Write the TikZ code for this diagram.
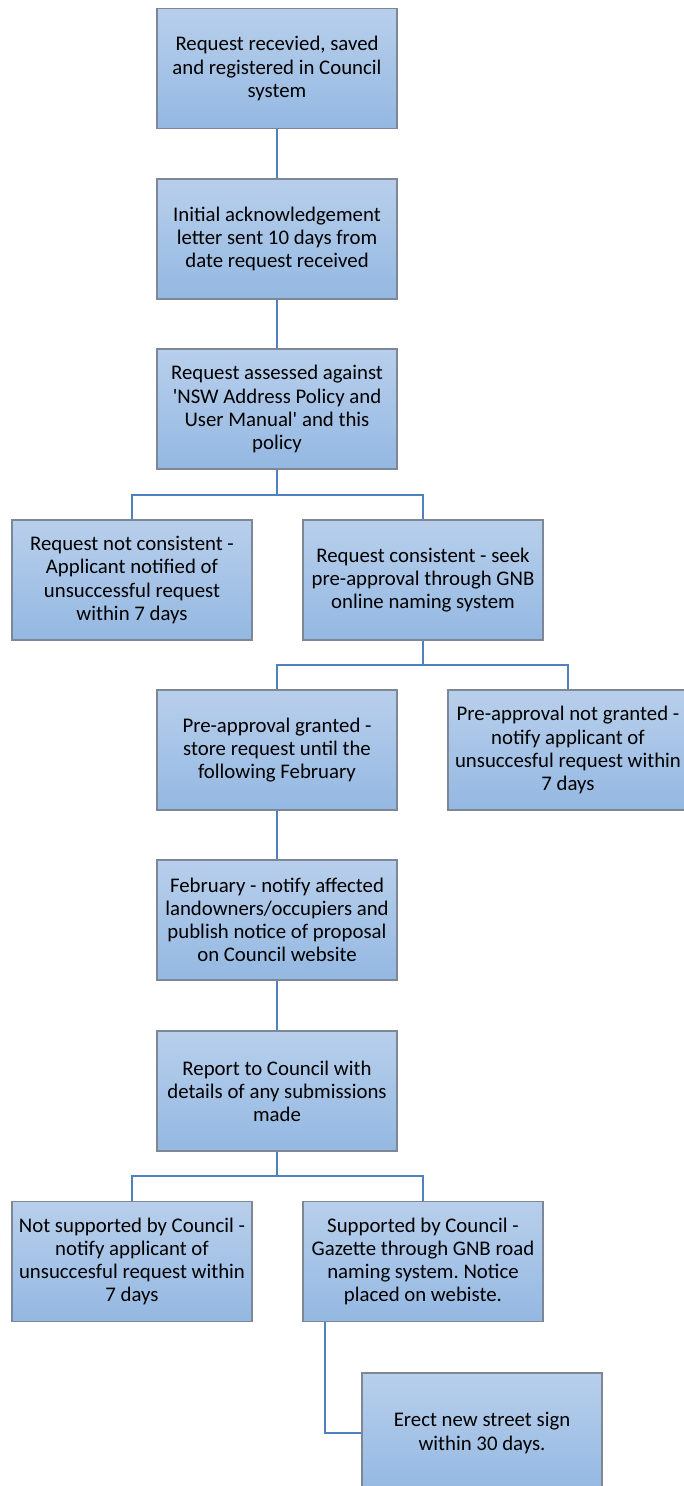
\documentclass[tikz,border=0pt]{standalone}
\usepackage{fontspec}
\setmainfont{Carlito}
\definecolor{boxtop}{RGB}{184,207,235}
\definecolor{boxbottom}{RGB}{148,184,226}
\definecolor{boxline}{RGB}{125,135,150}
\definecolor{linkblue}{RGB}{79,129,189}
\frenchspacing
\begin{document}
\begin{tikzpicture}[x=0.75pt, y=-0.75pt,
    stage/.style={draw=boxline, line width=0.9pt, top color=boxtop, bottom color=boxbottom,
      minimum width=180pt, minimum height=90pt, inner sep=0pt, align=center,
      font=\fontsize{15.6pt}{17.3pt}\selectfont},
    link/.style={draw=linkblue, line width=1.6pt}]
    \useasboundingbox (0,0) rectangle (684,1486) ;

    \node[stage] (recv) at (277,68.5) {Request recevied, saved\\and registered in Council\\system} ;
    \node[stage] (ack) at (277,239) {Initial acknowledgement\\letter sent 10 days from\\date request received} ;
    \node[stage] (assess) at (277,409) {Request assessed against\\\textquotesingle NSW Address Policy and\\User Manual\textquotesingle{} and this\\policy} ;
    \node[stage] (notcons) at (132,580) {Request not consistent -\\Applicant notified of\\unsuccessful request\\within 7 days} ;
    \node[stage] (cons) at (423,580) {Request consistent - seek\\pre-approval through GNB\\online naming system} ;
    \node[stage] (granted) at (277,750) {Pre-approval granted -\\store request until the\\following February} ;
    \node[stage] (notgranted) at (568,750) {Pre-approval not granted -\\notify applicant of\\unsuccesful request within\\7 days} ;
    \node[stage] (feb) at (277,920) {February - notify affected\\landowners/occupiers and\\publish notice of proposal\\on Council website} ;
    \node[stage] (report) at (277,1091) {Report to Council with\\details of any submissions\\made} ;
    \node[stage] (notsup) at (132,1261.5) {Not supported by Council -\\notify applicant of\\unsuccesful request within\\7 days} ;
    \node[stage] (sup) at (423,1261.5) {Supported by Council -\\Gazette through GNB road\\naming system. Notice\\placed on webiste.} ;
    \node[stage] (sign) at (482,1433) {Erect new street sign\\within 30 days.} ;

    \coordinate (split1) at (277,495) ;
    \coordinate (split2) at (423,665) ;
    \coordinate (split3) at (277,1176) ;

    \draw[link] (recv) -- (ack) ;
    \draw[link] (ack) -- (assess) ;
    \draw[link] (assess) -- (split1) -| (notcons) ;
    \draw[link] (split1) -| (cons) ;
    \draw[link] (cons) -- (split2) -| (granted) ;
    \draw[link] (split2) -| (notgranted) ;
    \draw[link] (granted) -- (feb) ;
    \draw[link] (feb) -- (report) ;
    \draw[link] (report) -- (split3) -| (notsup) ;
    \draw[link] (split3) -| (sup) ;
    \draw[link] ([xshift=17pt]sup.south west) |- (sign.west) ;
  \end{tikzpicture}
\end{document}
